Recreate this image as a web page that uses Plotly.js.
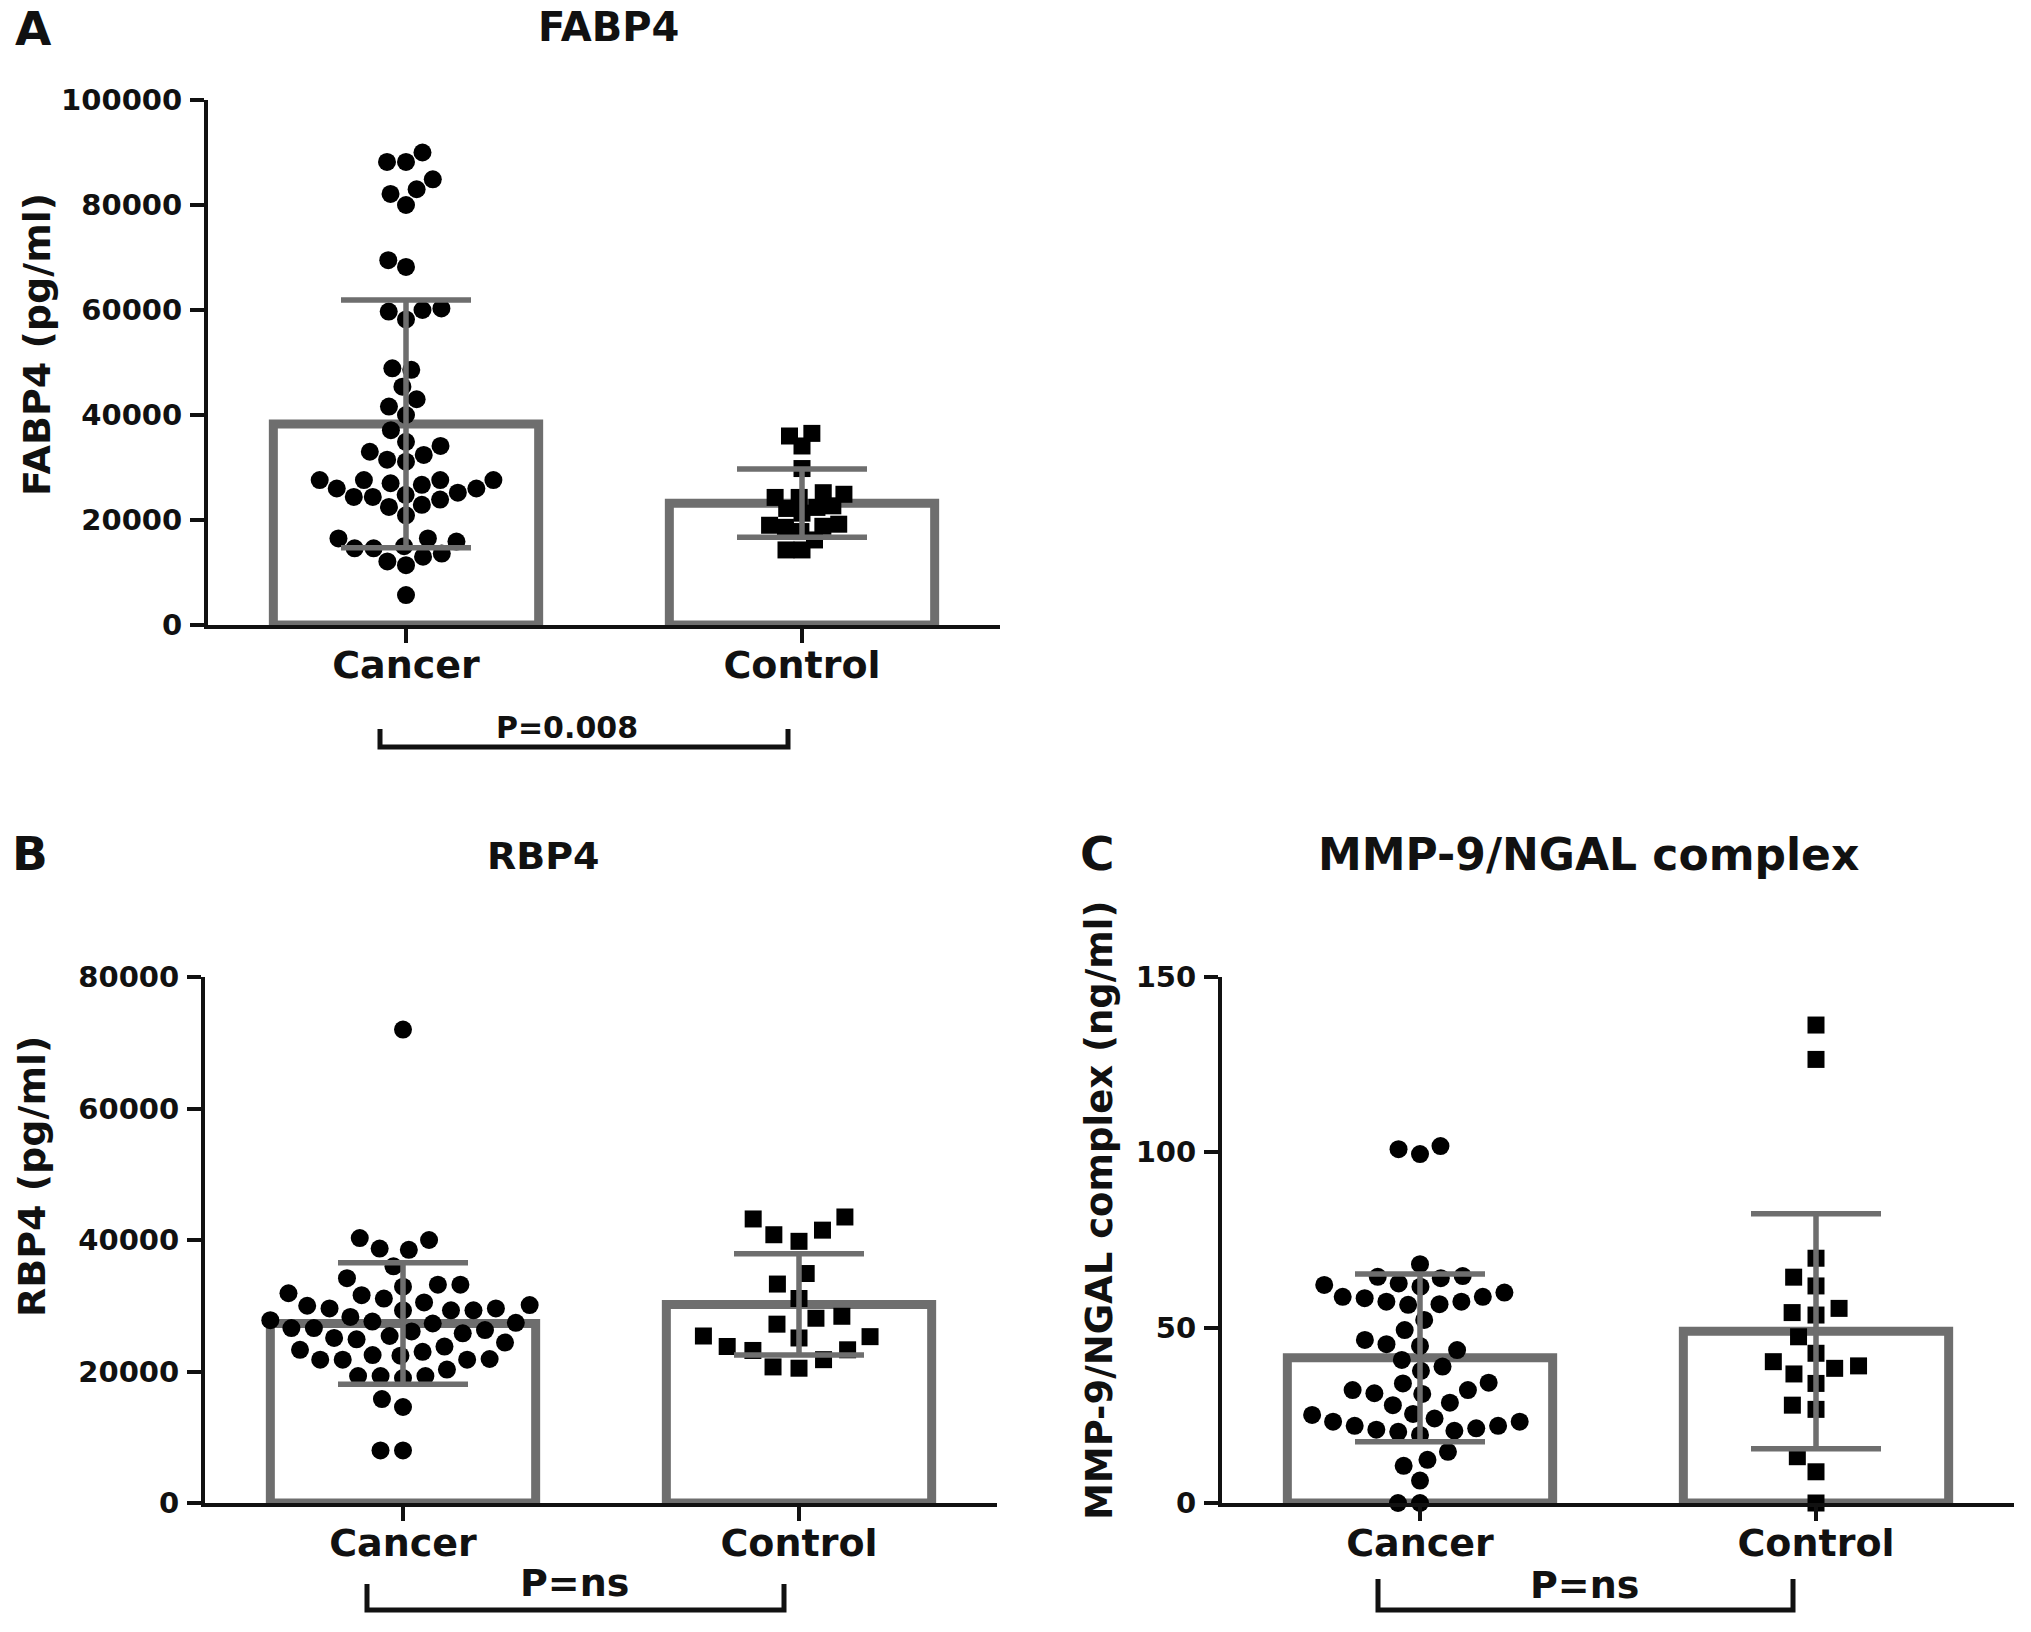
<!DOCTYPE html>
<html>
<head>
<meta charset="utf-8">
<script src="https://cdn.plot.ly/plotly-3.0.1.min.js"></script>
<style>html,body{margin:0;padding:0;background:#fff;}#chart{width:2031px;height:1632px;}</style>
</head>
<body>
<div id="chart"></div>
<script>
// ---------------- data ----------------
const categories = ['Cancer', 'Control'];

const fabp4Title = 'FABP4';
const fabp4Axis = 'FABP4 (pg/ml)';
const fabp4Ticks = [0, 20000, 40000, 60000, 80000, 100000];
const fabp4Cancer = [90000, 88200, 88200, 84900, 82100, 83000, 80000, 68200, 69500, 60300, 59700, 58200, 60000,
  48600, 48900, 45400, 43000, 41600, 40000, 37100, 34900, 34100, 33000, 32400, 31500, 31100,
  27600, 27600, 26700, 26000, 25200, 24400, 23900, 22500, 26000, 27000, 27600, 27600, 24400, 24800, 22900, 20900,
  15900, 16500, 16500, 15000, 14600, 14600, 13600, 13000, 12100, 11400, 5700];
const fabp4Control = [36000, 36500, 34100, 29800, 25200, 24300, 24300, 24900, 22400, 21300, 22200, 22700,
  19000, 18600, 18800, 19200, 17800, 16200, 14300, 14300];
const fabp4Mean = [38300, 23200];
const fabp4SD = [23600, 6500];
const fabp4P = 'P=0.008';

const rbp4Title = 'RBP4';
const rbp4Axis = 'RBP4 (pg/ml)';
const rbp4Ticks = [0, 20000, 40000, 60000, 80000];
const rbp4Cancer = [72000, 38700, 40300, 40000, 38500, 36000, 33200, 32900, 31600, 31100, 31900, 33200, 34200,
  30500, 29600, 29600, 29300, 29300, 29300, 30000, 30100, 28300, 27600, 27300, 27400, 27800,
  26600, 26100, 25800, 25100, 24400, 23300, 23000, 23800, 24900, 25400, 26300, 26600,
  22500, 21900, 21800, 20300, 19300, 19000, 19300, 19300, 21800, 21800, 22400, 15800, 14600, 8000, 8000];
const rbp4Control = [43500, 43200, 41500, 40800, 39800, 34900, 33300, 31100, 28400, 28100, 27200, 25300,
  25100, 25400, 23800, 23300, 23200, 21800, 20500, 20700];
const rbp4Mean = [27300, 30200];
const rbp4SD = [9250, 7700];
const rbp4P = 'P=ns';

const mmpTitle = 'MMP-9/NGAL complex';
const mmpAxis = 'MMP-9/NGAL complex (ng/ml)';
const mmpTicks = [0, 50, 100, 150];
const mmpCancer = [100.9, 99.5, 101.8, 68.1, 64.5, 64.7, 62.6, 61.7, 62.2, 64.1, 60.0, 58.8, 57.4, 56.7, 56.5,
  57.4, 58.4, 58.8, 52.2, 49.3, 45.3, 44.8, 46.5, 43.6, 40.8, 37.7, 38.9, 34.3, 32.2, 31.3, 28.6, 27.9, 31.1,
  32.2, 34.1, 25.1, 23.2, 22.0, 21.3, 20.6, 19.4, 20.3, 20.9, 22.0, 23.2, 24.1, 25.4, 14.6, 12.3, 10.6, 6.4, 0, 0];
const mmpControl = [136.3, 126.5, 69.8, 64.4, 61.9, 54.3, 53.6, 55.5, 47.4, 42.7, 39.1, 36.8, 38.4, 40.3,
  34.1, 27.9, 26.7, 13.2, 8.9, 0];
const mmpMean = [41.4, 49.0];
const mmpSD = [23.9, 33.5];
const mmpP = 'P=ns';

const panelLetters = ['A', 'B', 'C'];

// ---------------- layout helpers ----------------
const W = 2031, H = 1632;
const GRAY = '#6e6e6e', INK = '#111111';
const FONT = 'DejaVu Sans';
const fx = p => p / W;
const fy = p => 1 - p / H;

const panels = [
  {n: '', xd: [208, 1000], yd: [100, 625], ymax: 100000, ticks: fabp4Ticks, c: fabp4Cancer, k: fabp4Control,
   mean: fabp4Mean, sd: fabp4SD, title: fabp4Title, axis: fabp4Axis, p: fabp4P, gap: [19, 16],
   titlePos: [608, 27], titleSize: 40, letterPos: [33, 28], axisPos: [37, 345], axisSize: 38,
   pPos: [567, 727], pSize: 30, br: [380, 788, 729, 747]},
  {n: '2', xd: [205, 997], yd: [977, 1503], ymax: 80000, ticks: rbp4Ticks, c: rbp4Cancer, k: rbp4Control,
   mean: rbp4Mean, sd: rbp4SD, title: rbp4Title, axis: rbp4Axis, p: rbp4P, gap: [22.5, 26],
   titlePos: [543, 856], titleSize: 38, letterPos: [30, 853], axisPos: [32, 1177], axisSize: 38,
   pPos: [574, 1583], pSize: 38, br: [367, 784, 1584, 1610]},
  {n: '3', xd: [1222, 2014], yd: [977, 1503], ymax: 150, ticks: mmpTicks, c: mmpCancer, k: mmpControl,
   mean: mmpMean, sd: mmpSD, title: mmpTitle, axis: mmpAxis, p: mmpP, gap: [22, 24],
   titlePos: [1588, 854], titleSize: 44, letterPos: [1097, 853], axisPos: [1099, 1211], axisSize: 37,
   pPos: [1584, 1585], pSize: 38, br: [1378, 1793, 1579, 1610]}
];

// beeswarm offsets (pixels) computed from values
function swarm(values, pxPerUnit, diam) {
  const order = values.map((v, i) => i).sort((a, b) => values[a] - values[b]);
  const placed = [];
  const off = new Array(values.length);
  for (const i of order) {
    const y = values[i] * pxPerUnit;
    const cands = [0];
    for (const p of placed) {
      const dy = y - p.y;
      if (Math.abs(dy) < diam) {
        const dx = Math.sqrt(diam * diam - dy * dy);
        cands.push(p.x + dx, p.x - dx);
      }
    }
    cands.sort((a, b) => Math.abs(a) - Math.abs(b) || a - b);
    let chosen = 0;
    for (const c of cands) {
      let ok = true;
      for (const p of placed) {
        const dx = c - p.x, dy = y - p.y;
        if (dx * dx + dy * dy < diam * diam - 0.01) { ok = false; break; }
      }
      if (ok) { chosen = c; break; }
    }
    placed.push({x: chosen, y: y});
    off[i] = chosen;
  }
  return off;
}

const traces = [];
const layout = {
  width: W, height: H,
  margin: {l: 0, r: 0, t: 0, b: 0},
  paper_bgcolor: '#ffffff', plot_bgcolor: '#ffffff',
  showlegend: false,
  font: {family: FONT, color: INK, weight: 'bold'},
  annotations: [], shapes: []
};

panels.forEach((P, idx) => {
  const xa = 'x' + P.n, ya = 'y' + P.n;
  const pxPerUnitY = (P.yd[1] - P.yd[0]) / P.ymax;
  const unitsPerPxX = 2 / (P.xd[1] - P.xd[0]);

  traces.push({
    type: 'bar', x: [0, 1], y: P.mean, width: 0.67, xaxis: xa, yaxis: ya,
    marker: {color: '#ffffff', line: {color: GRAY, width: 9}}, hoverinfo: 'skip'
  });

  const cOff = swarm(P.c, pxPerUnitY, P.gap[0]);
  traces.push({
    type: 'scatter', mode: 'markers', xaxis: xa, yaxis: ya, cliponaxis: false,
    x: P.c.map((v, i) => 0 + cOff[i] * unitsPerPxX), y: P.c,
    marker: {symbol: 'circle', size: 18, color: '#000000', line: {width: 0}}
  });
  const kOff = swarm(P.k, pxPerUnitY, P.gap[1]);
  traces.push({
    type: 'scatter', mode: 'markers', xaxis: xa, yaxis: ya, cliponaxis: false,
    x: P.k.map((v, i) => 1 + kOff[i] * unitsPerPxX), y: P.k,
    marker: {symbol: 'square', size: 17, color: '#000000', line: {width: 0}}
  });

  traces.push({
    type: 'scatter', mode: 'markers', xaxis: xa, yaxis: ya, cliponaxis: false,
    x: [0, 1], y: P.mean, marker: {opacity: 0, size: 2}, hoverinfo: 'skip',
    error_y: {type: 'data', array: P.sd, visible: true, color: GRAY, thickness: 5.5, width: 65}
  });

  const axisCommon = {
    showline: true, linecolor: INK, linewidth: 4, ticks: 'outside', tickwidth: 4, ticklen: 14,
    tickcolor: INK, showgrid: false, zeroline: false, fixedrange: true
  };
  layout['xaxis' + P.n] = Object.assign({}, axisCommon, {
    domain: [fx(P.xd[0]), fx(P.xd[1])], range: [-0.5, 1.5], anchor: ya,
    tickvals: [0, 1], ticktext: categories, ticklabelstandoff: -11,
    tickfont: {family: FONT, size: 38, color: INK, weight: 'bold'}
  });
  layout['yaxis' + P.n] = Object.assign({}, axisCommon, {
    domain: [fy(P.yd[1]), fy(P.yd[0])], range: [0, P.ymax], anchor: xa,
    tickvals: P.ticks, tickformat: 'd', ticklabelstandoff: 2,
    tickfont: {family: FONT, size: 29, color: INK, weight: 'bold'}
  });

  const ann = (txt, pos, size, extra) => layout.annotations.push(Object.assign({
    text: txt, xref: 'paper', yref: 'paper', x: fx(pos[0]), y: fy(pos[1]),
    xanchor: 'center', yanchor: 'middle', showarrow: false,
    font: {family: FONT, size: size, color: INK, weight: 'bold'}
  }, extra || {}));

  ann(P.title, P.titlePos, P.titleSize);
  ann(panelLetters[idx], P.letterPos, 47);
  ann(P.axis, P.axisPos, P.axisSize, {textangle: -90});
  ann(P.p, P.pPos, P.pSize);

  const [x1, x2, yt, yb] = P.br;
  layout.shapes.push({
    type: 'path', xref: 'paper', yref: 'paper',
    path: 'M ' + fx(x1) + ' ' + fy(yt) + ' L ' + fx(x1) + ' ' + fy(yb) + ' L ' + fx(x2) + ' ' + fy(yb) + ' L ' + fx(x2) + ' ' + fy(yt),
    line: {color: INK, width: 5}
  });
});

Plotly.newPlot('chart', traces, layout, {displayModeBar: false, staticPlot: true});
</script>
</body>
</html>
